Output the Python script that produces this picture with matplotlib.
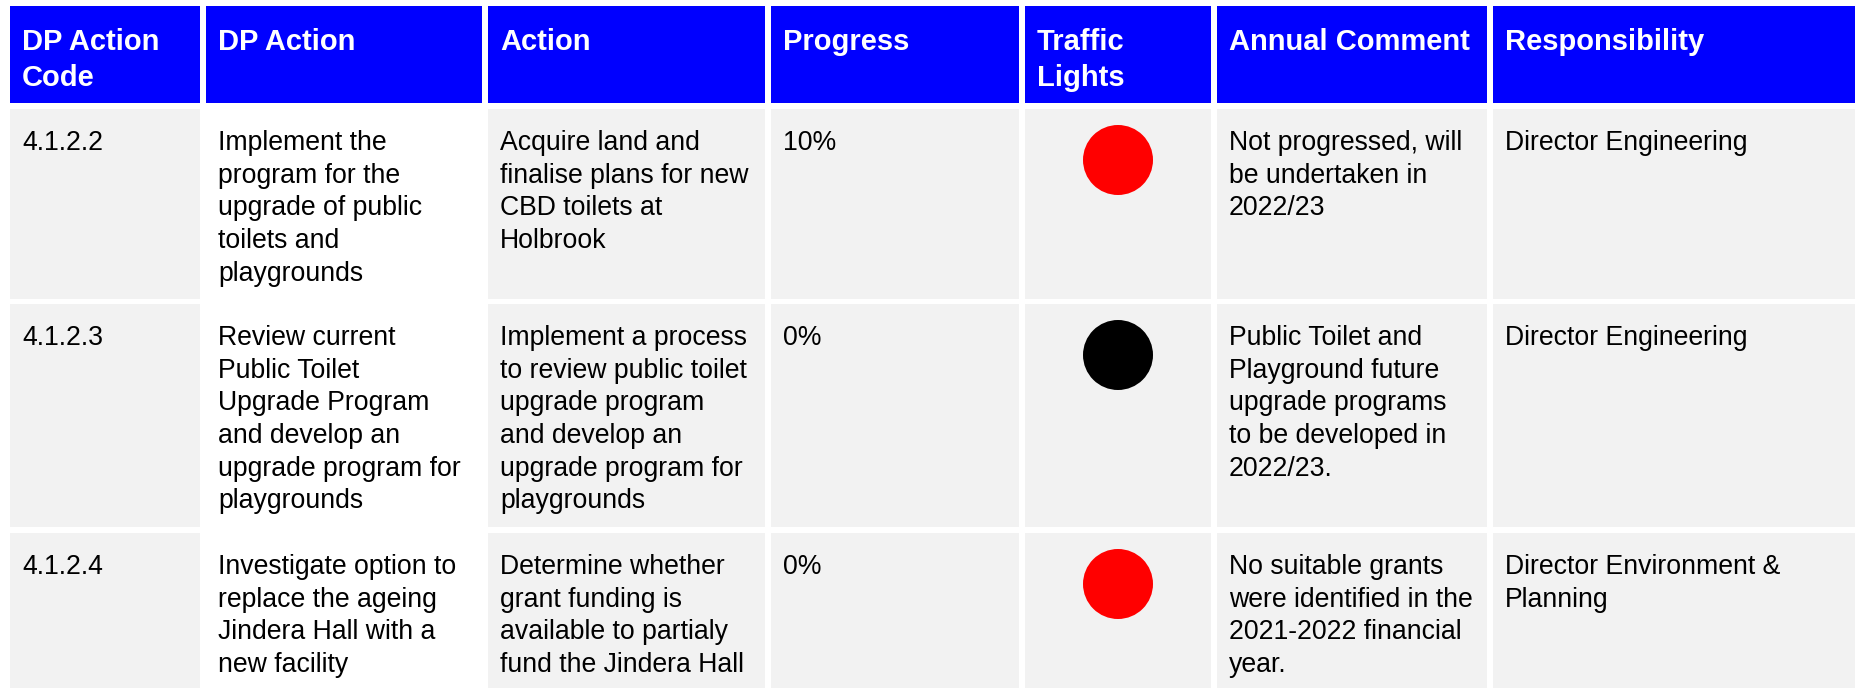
import matplotlib.pyplot as plt
from matplotlib.patches import Rectangle, Circle

# table content
headers = [
    ["DP Action", "Code"],
    ["DP Action"],
    ["Action"],
    ["Progress"],
    ["Traffic", "Lights"],
    ["Annual Comment"],
    ["Responsibility"],
]

codes = ["4.1.2.2", "4.1.2.3", "4.1.2.4"]
dp_actions = [
    ["Implement the", "program for the", "upgrade of public", "toilets and", "playgrounds"],
    ["Review current", "Public Toilet", "Upgrade Program", "and develop an",
     "upgrade program for", "playgrounds"],
    ["Investigate option to", "replace the ageing", "Jindera Hall with a", "new facility"],
]
actions = [
    ["Acquire land and", "finalise plans for new", "CBD toilets at", "Holbrook"],
    ["Implement a process", "to review public toilet", "upgrade program",
     "and develop an", "upgrade program for", "playgrounds"],
    ["Determine whether", "grant funding is", "available to partialy", "fund the Jindera Hall"],
]
progress = ["10%", "0%", "0%"]
lights = ["#ff0000", "#000000", "#ff0000"]
comments = [
    ["Not progressed, will", "be undertaken in", "2022/23"],
    ["Public Toilet and", "Playground future", "upgrade programs",
     "to be developed in", "2022/23."],
    ["No suitable grants", "were identified in the", "2021-2022 financial", "year."],
]
responsibility = [
    ["Director Engineering"],
    ["Director Engineering"],
    ["Director Environment &", "Planning"],
]

# layout in pixels
W, H = 1856, 688
col_left = [10, 206, 488, 771, 1025, 1217, 1493]
col_right = [200, 482, 765, 1019, 1211, 1487, 1870]
head_top, head_bot = 6, 103
row_top = [109, 304, 533]
row_bot = [299, 527, 700]
pad = 12
body_fs = 19.2
head_fs = 21
body_ls = 32.7
head_ls = 36

blue = "#0000ff"
grey = "#f2f2f2"

fig = plt.figure(figsize=(W / 100, H / 100), dpi=100)
ax = fig.add_axes([0, 0, 1, 1])
ax.set_xlim(0, W)
ax.set_ylim(H, 0)
ax.axis("off")

font = "Liberation Sans"

for c, lines in enumerate(headers):
    ax.add_patch(Rectangle((col_left[c], head_top), col_right[c] - col_left[c],
                           head_bot - head_top, color=blue, lw=0))
    for i, ln in enumerate(lines):
        ax.text(col_left[c] + pad, head_top + 44 + i * head_ls, ln, color="white",
                fontsize=head_fs, fontweight="bold", family=font, va="baseline")

for r in range(len(codes)):
    cells = [[codes[r]], dp_actions[r], actions[r], [progress[r]], [],
             comments[r], responsibility[r]]
    for c, lines in enumerate(cells):
        bg = "white" if c == 1 else grey
        ax.add_patch(Rectangle((col_left[c], row_top[r]), col_right[c] - col_left[c],
                               row_bot[r] - row_top[r], color=bg, lw=0))
        for i, ln in enumerate(lines):
            ax.text(col_left[c] + pad, row_top[r] + 41 + i * body_ls, ln, color="black",
                    fontsize=body_fs, family=font, va="baseline")
    cx = (col_left[4] + col_right[4]) / 2 + 0
    ax.add_patch(Circle((cx, row_top[r] + 51), 35, color=lights[r], lw=0))

fig.savefig("out.png", dpi=100)
